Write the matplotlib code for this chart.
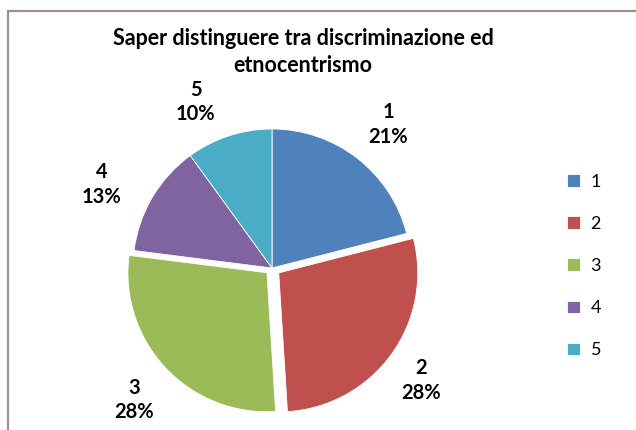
import matplotlib
matplotlib.use("Agg")
import matplotlib.pyplot as plt
from matplotlib.patches import Rectangle
import numpy as np

categories = ["1", "2", "3", "4", "5"]
percent = [21, 28, 28, 13, 10]
colors = ["#4F81BD", "#C0504D", "#9BBB59", "#8064A2", "#4BACC6"]
explode = [0, 0.06, 0.05, 0, 0]
title = "Saper distinguere tra discriminazione ed\netnocentrismo"

W, H = 636, 430
fig = plt.figure(figsize=(W / 100, H / 100), dpi=100)
fig.patch.set_facecolor("white")

# axes placement so the pie center is at (272,268) px with radius 139 px
cx, cy, R = 272, 268, 139
lim = 1.5
side = 2 * lim * R
ax = fig.add_axes([(cx - side / 2) / W, (H - cy - side / 2) / H, side / W, side / H])

labels = [f"{c}\n{p}%" for c, p in zip(categories, percent)]
wedges, texts = ax.pie(percent, colors=colors, explode=explode, startangle=90,
                       counterclock=False, labels=labels, labeldistance=1.33,
                       wedgeprops=dict(edgecolor="white", linewidth=0.6))
ax.set_xlim(-lim, lim)
ax.set_ylim(-lim, lim)
ax.set_aspect("equal")
ax.axis("off")

# "best fit" style label placement: small per-label angle / distance tweaks
angle_tweak = [-1.2, -1.0, 0.5, 4.4, 6.6]
dist = [1.33, 1.345, 1.374, 1.367, 1.314]
for w, t, da, d in zip(wedges, texts, angle_tweak, dist):
    mid = np.deg2rad((w.theta1 + w.theta2) / 2 + da)
    t.set_position((d * np.cos(mid), d * np.sin(mid)))
    t.set_ha("center")
    t.set_va("center")
    t.set_fontfamily("Lato")
    t.set_fontweight("bold")
    t.set_fontsize(14.5)
    t.set_linespacing(1.3)
    t.set_clip_on(False)

fig.text(303 / W, 1 - 52 / H, title, ha="center", va="center", fontfamily="Lato",
         fontweight="bold", fontsize=15.5, linespacing=1.3)

leg = fig.legend(wedges, categories, loc="center left", bbox_to_anchor=(558 / W, 1 - 266 / H),
                 frameon=False, prop=dict(family="Lato", size=13), handlelength=0.7,
                 handleheight=0.7, handletextpad=0.6, labelspacing=1.45, borderpad=0)

fig.patches.append(Rectangle((8 / W, -0.1), 1.0, (H - 11.5) / H + 0.1, transform=fig.transFigure,
                             fill=False, edgecolor="#a38e8e", linewidth=1.6))

fig.savefig("out.png", dpi=100)
